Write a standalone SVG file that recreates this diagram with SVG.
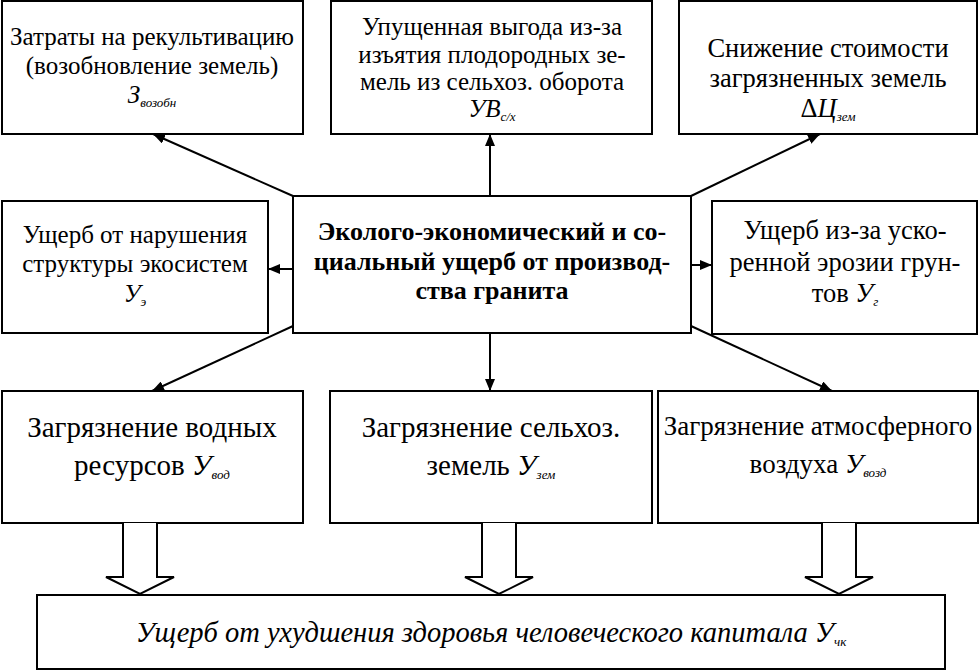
<svg xmlns="http://www.w3.org/2000/svg" width="979" height="671" viewBox="0 0 979 671" font-family="'Liberation Serif', 'Times New Roman', Tinos, 'Nimbus Roman', 'Noto Serif', FreeSerif, 'DejaVu Serif', serif">
<defs>
<style>
.box{fill:#fff;stroke:#000;stroke-width:2}
.t{fill:#000;text-anchor:middle}
.b{font-weight:bold}
.i{font-style:italic}
.sub{font-style:italic;font-size:13px}
.conn line{stroke:#000;stroke-width:2;marker-end:url(#ah)}
.hol{fill:#fff;stroke:#000;stroke-width:2}
</style>
<marker id="ah" viewBox="0 0 12 10" refX="12" refY="5" markerWidth="12" markerHeight="10" markerUnits="userSpaceOnUse" orient="auto">
<path d="M0,0 L12,5 L0,10 z" fill="#000"/>
</marker>
</defs>
<rect width="979" height="671" fill="#fff"/>

<g id="n-restore">
<rect class="box" x="2" y="1" width="301" height="133"/>
<text class="t" font-size="25" x="152" y="45">Затраты на рекультивацию</text>
<text class="t" font-size="25" x="152" y="74">(возобновление земель)</text>
<text class="t" font-size="25" x="152" y="103"><tspan class="i">З</tspan><tspan class="sub" dy="4">возобн</tspan></text>
</g>

<g id="n-lost">
<rect class="box" x="331" y="1" width="321" height="133"/>
<text class="t" font-size="25" x="492" y="35">Упущенная выгода из-за</text>
<text class="t" font-size="25" x="492" y="63">изъятия плодородных зе-</text>
<text class="t" font-size="25" x="492" y="90">мель из сельхоз. оборота</text>
<text class="t" font-size="25" x="492" y="117"><tspan class="i">УВ</tspan><tspan class="sub" dy="4">с/х</tspan></text>
</g>

<g id="n-price">
<rect class="box" x="679" y="1" width="298" height="133"/>
<text class="t" font-size="26.5" x="828" y="57">Снижение стоимости</text>
<text class="t" font-size="26.5" x="828" y="87">загрязненных земель</text>
<text class="t" font-size="26.5" x="828" y="117">Δ<tspan class="i">Ц</tspan><tspan class="sub" dy="4">зем</tspan></text>
</g>

<g id="n-center">
<rect class="box" x="293" y="196" width="398" height="137"/>
<text class="t b" font-size="26" x="492" y="240">Эколого-экономический и со-</text>
<text class="t b" font-size="26" x="492" y="270">циальный ущерб от производ-</text>
<text class="t b" font-size="26" x="492" y="299">ства гранита</text>
</g>

<g id="n-eco">
<rect class="box" x="2" y="201" width="266" height="132"/>
<text class="t" font-size="25" x="135" y="243">Ущерб от нарушения</text>
<text class="t" font-size="25" x="135" y="272">структуры экосистем</text>
<text class="t" font-size="25" x="135" y="302"><tspan class="i">У</tspan><tspan class="sub" dy="4">э</tspan></text>
</g>

<g id="n-erosion">
<rect class="box" x="712" y="201" width="265" height="133"/>
<text class="t" font-size="26.5" x="845" y="239">Ущерб из-за уско-</text>
<text class="t" font-size="26.5" x="845" y="271">ренной эрозии грун-</text>
<text class="t" font-size="26.5" x="845" y="302">тов <tspan class="i">У</tspan><tspan class="sub" dy="4">г</tspan></text>
</g>

<g id="n-water">
<rect class="box" x="2" y="391" width="301" height="132"/>
<text class="t" font-size="29" x="152" y="437">Загрязнение водных</text>
<text class="t" font-size="29" x="152" y="475">ресурсов <tspan class="i">У</tspan><tspan class="sub" dy="4">вод</tspan></text>
</g>

<g id="n-agri">
<rect class="box" x="330" y="391" width="322" height="132"/>
<text class="t" font-size="29" x="491" y="437">Загрязнение сельхоз.</text>
<text class="t" font-size="29" x="491" y="475">земель <tspan class="i">У</tspan><tspan class="sub" dy="4">зем</tspan></text>
</g>

<g id="n-air">
<rect class="box" x="658" y="391" width="320" height="132"/>
<text class="t" font-size="27" x="818" y="435">Загрязнение атмосферного</text>
<text class="t" font-size="27" x="818" y="473">воздуха <tspan class="i">У</tspan><tspan class="sub" dy="4">возд</tspan></text>
</g>

<g id="n-health">
<rect class="box" x="37" y="595" width="908" height="74"/>
<text class="t i" font-size="28.5" x="491" y="642">Ущерб от ухудшения здоровья человеческого капитала У<tspan class="sub" dy="4">чк</tspan></text>
</g>

<g id="connectors" class="conn">
<line x1="293" y1="196" x2="153" y2="134"/>
<line x1="490" y1="196" x2="490" y2="134"/>
<line x1="691" y1="196" x2="820" y2="134"/>
<line x1="293" y1="269" x2="268" y2="269"/>
<line x1="691" y1="265" x2="712" y2="265"/>
<line x1="293" y1="326" x2="152" y2="391"/>
<line x1="490" y1="333" x2="490" y2="391"/>
<line x1="691" y1="326" x2="832" y2="391"/>
<path class="hol" d="M123,523 V577 H106 L140,594 L174,577 H157 V523"/>
<path class="hol" d="M482,523 V577 H465 L499,594 L533,577 H516 V523"/>
<path class="hol" d="M822,523 V577 H805 L839,594 L873,577 H856 V523"/>
</g>
</svg>
